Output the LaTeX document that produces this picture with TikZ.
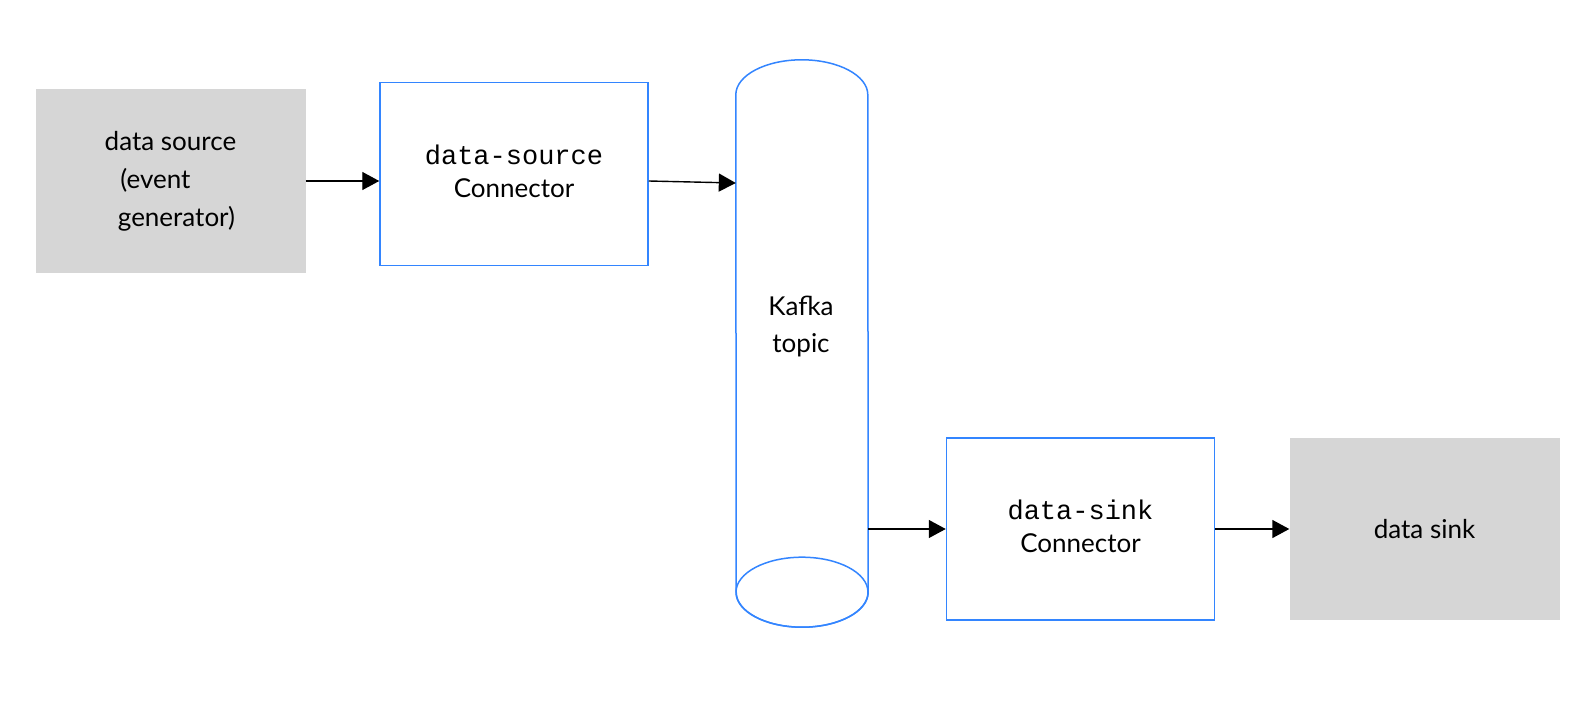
\documentclass[tikz,border=0pt]{standalone}
\usepackage{fontspec}
\setmainfont{Lato}
\setmonofont{Liberation Mono}
\usetikzlibrary{arrows.meta, positioning, calc}
\definecolor{Store}{RGB}{214,214,214}
\definecolor{Link}{RGB}{51,133,255}

\begin{document}
\begin{tikzpicture}[x=1pt, y=-1pt,
    ext/.style={fill=Store, minimum width=270pt, minimum height=183pt, align=center, font=\fontsize{26}{38}\selectfont},
    conn/.style={draw=Link, line width=1.5pt, minimum width=268pt, minimum height=183pt, align=center, text depth=6pt, font=\fontsize{26}{33}\selectfont},
    cyl/.style={draw=Link, line width=1.5pt},
    flow/.style={line width=1.4pt, -{Triangle[length=17pt,width=18pt]}}]
  \useasboundingbox[fill=white] (0,0) rectangle (1596,706);

  % Outside systems
  \node[ext] (src) at (170.5,181) {data source\\\hspace*{-30pt}(event\\\hspace*{12pt}generator)};
  \node[ext, minimum height=182pt] (sink) at (1424.5,529) {data sink};

  % Connectors
  \node[conn] (srcconn) at (514,174) {{\fontsize{27}{33}\ttfamily data-source}\\Connector};
  \node[conn, minimum height=182pt] (sinkconn) at (1080.5,529) {{\fontsize{27}{33}\ttfamily data-sink}\\Connector};

  % Topic
  \node[minimum width=132pt, minimum height=567pt, inner sep=0pt] (topic) at (802,343.5) {};
  \draw[cyl] ($(topic.north west)+(0,35)$) arc[start angle=180, end angle=0, x radius=66pt, y radius=35pt]
    -- ($(topic.south east)+(0,-35)$) arc[start angle=0, end angle=-180, x radius=66pt, y radius=35pt] -- cycle;
  \draw[cyl] ($(topic.south)+(0,-35)$) ellipse[x radius=66pt, y radius=35pt];
  \node[align=center, font=\fontsize{26}{37}\selectfont] (topictext) at (801,327) {Kafka\\topic};

  % Flow
  \draw[flow] (src.east) -- (src.east -| srcconn.west);
  \draw[flow] (src.east -| srcconn.east) -- ([yshift=-2pt]src.east -| topic.west);
  \draw[flow] (sinkconn.west -| topic.east) -- (sinkconn.west);
  \draw[flow] (sinkconn.east) -- (sink.west);
\end{tikzpicture}
\end{document}
